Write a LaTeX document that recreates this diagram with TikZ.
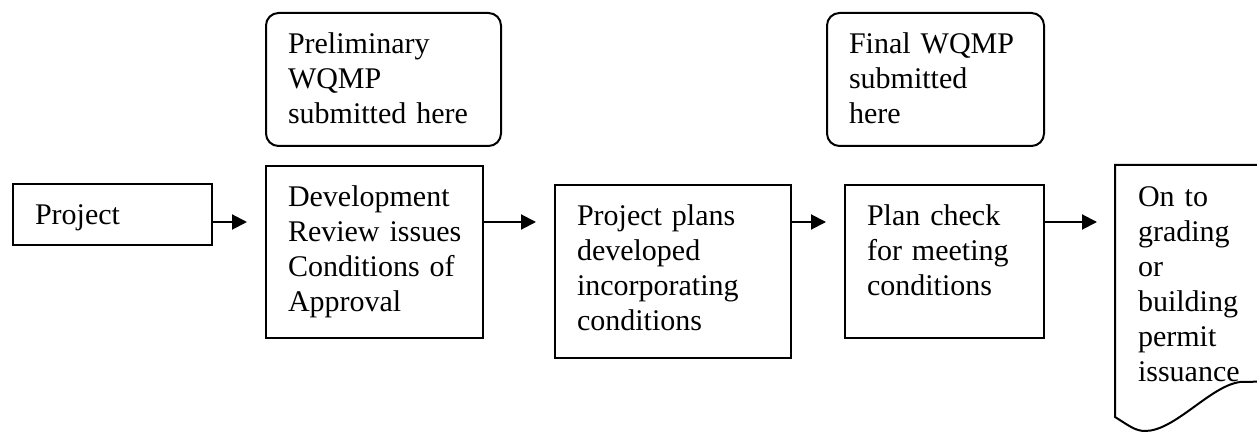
\documentclass[tikz,border=0pt]{standalone}
\usepackage{fontspec}
\setmainfont{Liberation Serif}
\usetikzlibrary{arrows.meta}
\hyphenpenalty=10000
\exhyphenpenalty=10000
\begin{document}
\begin{tikzpicture}[x=0.4pt, y=-0.4pt,
  stage/.style={draw, line width=0.8pt, anchor=north west, align=left,
    inner xsep=8.8pt, inner ysep=8pt, text height=8.2pt,
    font=\fontsize{12}{14}\selectfont},
  note/.style={stage, rounded corners=5pt},
  flow/.style={line width=0.8pt, -{Triangle[length=6pt,width=6pt]}, shorten >=7.2pt}]
\useasboundingbox (0,0) rectangle (1257,432);
\node[stage, text width=62pt, text depth=0pt] (project) at (12,183) {Project};
\node[stage, text width=69.2pt, text depth=44.6pt] (devrev) at (265,165)
  {Development\\\mbox{Review issues}\\\mbox{Conditions of}\\Approval};
\node[note, text width=76.4pt, text depth=29pt] (prelim) at (265,12)
  {Preliminary\\WQMP\\\mbox{submitted here}};
\node[stage, text width=76.8pt, text depth=45pt] (plans) at (554,184)
  {\mbox{Project plans}\\developed\\incorporating\\conditions};
\node[stage, text width=62pt, text depth=37pt] (check) at (844,184)
  {\mbox{Plan check}\\\mbox{for meeting}\\conditions};
\node[note, text width=69.2pt, text depth=29pt] (final) at (826,12)
  {\mbox{Final WQMP}\\submitted\\here};
\node[stage, draw=none, text width=52.4pt, text depth=75.8pt] (permit) at (1115,165)
  {\mbox{On to}\\grading\\or\\building\\permit\\issuance};
% document outline, cut by the page edge
\draw[line width=0.8pt] (permit.north east) -- (permit.north west) -- (permit.south west)
  .. controls (1128,425) and (1135,431) .. (1145,431)
  .. controls (1175,431) and (1210,386) .. (1240,382) -- (permit.east |- 0,381);
\coordinate (lvl) at (0,222);
\draw[flow] (project.east |- lvl) -- (devrev.west |- lvl);
\draw[flow] (devrev.east |- lvl) -- (plans.west |- lvl);
\draw[flow] (plans.east |- lvl) -- (check.west |- lvl);
\draw[flow] (check.east |- lvl) -- (permit.west |- lvl);
\end{tikzpicture}
\end{document}
